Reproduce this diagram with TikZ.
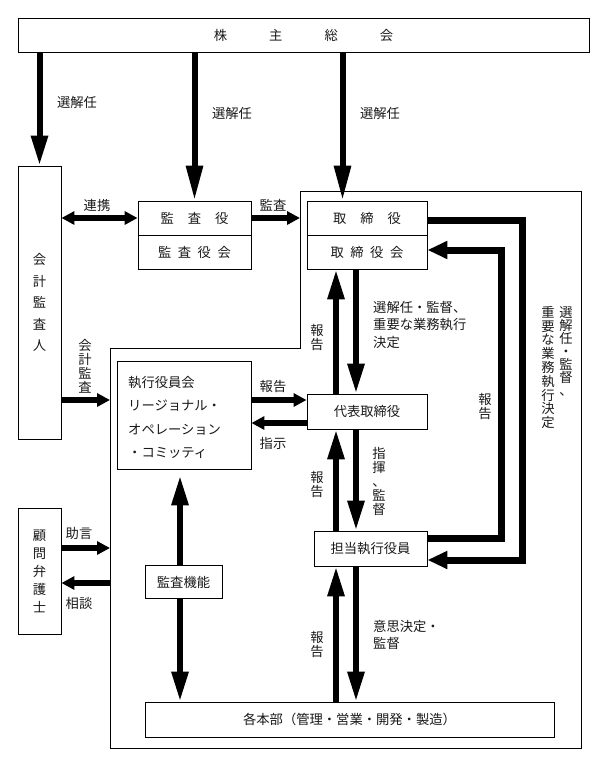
\documentclass[tikz,border=0pt]{standalone}
\usepackage{fontspec}
\setmainfont{Noto Sans CJK JP}
\usetikzlibrary{arrows.meta}
\definecolor{ink}{gray}{0.1}
\begin{document}
\begin{tikzpicture}[x=1pt,y=-1pt,
  box/.style={draw=black, line width=0.9pt, rectangle, inner sep=0pt, anchor=center, text=ink, font=\fontsize{13.3}{16}\selectfont},
  lbl/.style={inner sep=0pt, text=ink, font=\fontsize{13.3}{16}\selectfont},
  vlbl/.style={lbl, align=center, font=\fontsize{13.3}{14}\selectfont},
  varrow/.style={line width=6pt, -{Triangle[length=30pt,width=16pt]}},
  vlarrow/.style={line width=6pt, -{Triangle[length=35pt,width=16pt]}},
  harrow/.style={line width=6pt, -{Triangle[length=13pt,width=13pt]}},
  darrow/.style={line width=6pt, {Triangle[length=13pt,width=13pt]}-{Triangle[length=13pt,width=13pt]}},
  larrow/.style={line width=7pt, -{Triangle[length=20pt,width=17pt]}, line join=miter},
  frame/.style={draw=black, line width=0.9pt},
]
\useasboundingbox (0,0) rectangle (607,768);

% frame
\draw[frame] (300,191) -- (581.5,191) -- (581.5,748) -- (110,748) -- (110,348) -- (300,348) -- cycle;

% boxes
\node[box, minimum width=571pt, minimum height=34pt] (kabu) at (303.5,35) {株\hspace{42pt}主\hspace{42pt}総\hspace{42pt}会};
\node[box, minimum width=43pt, minimum height=273pt, align=center, font=\fontsize{13.3}{21.5}\selectfont] (kaikei) at (39.5,302.5) {会\\計\\監\\査\\人};
\node[box, minimum width=43pt, minimum height=126pt, align=center, font=\fontsize{13.3}{18}\selectfont] (komon) at (39.5,571) {顧\\問\\弁\\護\\士};
\node[box, minimum width=113pt, minimum height=34pt] (kansa) at (194.5,218) {監\hspace{14pt}査\hspace{14pt}役};
\node[box, minimum width=113pt, minimum height=34pt] (kansakai) at (194.5,252) {監\hspace{6.5pt}査\hspace{6.5pt}役\hspace{6.5pt}会};
\node[box, minimum width=120pt, minimum height=34pt] (tori) at (367,218) {取\hspace{14pt}締\hspace{14pt}役};
\node[box, minimum width=120pt, minimum height=34pt] (torikai) at (367,252) {取\hspace{6.5pt}締\hspace{6.5pt}役\hspace{6.5pt}会};
\node[box, minimum width=120pt, minimum height=35pt] (daihyo) at (367,411.5) {代表取締役};
\node[box, minimum width=113pt, minimum height=35pt] (tanto) at (370.5,548.5) {担当執行役員};
\node[box, minimum width=134pt, minimum height=108pt] (shikko) at (184,415) {};
\node[lbl, anchor=west, align=left, font=\fontsize{13.3}{23.3}\selectfont] (shikkotxt) at (128,417.5) {執行役員会\\リージョナル・\\オペレーション\\・コミッティ};
\node[box, minimum width=77pt, minimum height=33pt] (kansakino) at (183.5,582) {監査機能};
\node[box, minimum width=409pt, minimum height=35pt] (honbu) at (349.5,719.5) {各本部（管理・営業・開発・製造）};

% helper coordinates
\coordinate (a3) at (342.5,0);
\coordinate (u) at (336,0);
\coordinate (d) at (356,0);
\coordinate (xk) at (180,0);
\coordinate (fL) at (110,0);
\coordinate (fT) at (300,0);
\coordinate (xo) at (522,0);
\coordinate (xi) at (501,0);
\coordinate (ya) at (0,400);
\coordinate (yb) at (0,423);
\coordinate (yc) at (0,548);
\coordinate (yd) at (0,583);
\coordinate (ye) at (0,220);
\coordinate (yf) at (0,560);
\coordinate (yg) at (0,538);
\coordinate (yh) at (0,250);

% top arrows
\draw[varrow] (kabu.south -| kaikei.north) -- (kaikei.north);
\draw[vlarrow] (kabu.south -| kansa.north) -- (kansa.north);
\draw[vlarrow] (kabu.south -| a3) -- (tori.north -| a3);
\node[lbl] (l1) at (77,102) {選解任};
\node[lbl] (l2) at (232,113) {選解任};
\node[lbl] (l3) at (380,113) {選解任};

% 連携, 監査
\draw[darrow] (kaikei.east |- kansa.west) -- (kansa.west);
\node[lbl] (renkei) at (97,205) {連携};
\draw[harrow] (kansa.east) -- (kansa.east -| fT);
\node[lbl] (kansalbl) at (273,205) {監査};

% 取締役会 <-> 代表取締役
\draw[varrow] (daihyo.north -| u) -- (torikai.south -| u);
\draw[varrow] (torikai.south -| d) -- (daihyo.north -| d);
\node[vlbl] (h1) at (317,338) {報\\告};
\node[lbl, anchor=west, align=left, font=\fontsize{13.3}{17.5}\selectfont] (senkai) at (373,324.5) {選解任・監督、\\重要な業務執行\\決定};

% loops
\draw[larrow] (tori.east |- ye) -- (xo |- ye) -- (xo |- yf) -- (tanto.east |- yf);
\draw[larrow] (tanto.east |- yg) -- (xi |- yg) -- (xi |- yh) -- (torikai.east |- yh);
\node[vlbl, anchor=north, font=\fontsize{13.3}{13}\selectfont] (c1) at (566,306) {選\\解\\任\\・\\監\\督\\、};
\node[vlbl, anchor=north, font=\fontsize{13.3}{13.8}\selectfont] (c2) at (548,306) {重\\要\\な\\業\\務\\執\\行\\決\\定};
\node[vlbl] (h2) at (485,407) {報\\告};

% 会計監査
\draw[harrow] (kaikei.east |- ya) -- (fL |- ya);
\node[vlbl] (kk) at (85,366) {会\\計\\監\\査};

% 執行役員会 <-> 代表取締役
\draw[harrow] (shikko.east |- ya) -- (daihyo.west |- ya);
\draw[harrow] (daihyo.west |- yb) -- (shikko.east |- yb);
\node[lbl] (h3) at (273,387) {報告};
\node[lbl] (shiji) at (273,443) {指示};

% 代表取締役 <-> 担当執行役員
\draw[varrow] (tanto.north -| u) -- (daihyo.south -| u);
\draw[varrow] (daihyo.south -| d) -- (tanto.north -| d);
\node[vlbl] (h4) at (317,485) {報\\告};
\node[vlbl] (shiki) at (379,481) {指\\揮\\、\\監\\督};

% 顧問弁護士
\draw[harrow] (komon.east |- yc) -- (fL |- yc);
\draw[harrow] (fL |- yd) -- (komon.east |- yd);
\node[lbl] (jogen) at (79,533) {助言};
\node[lbl] (sodan) at (79,603) {相談};

% 監査機能
\draw[varrow, shorten >=6pt] (kansakino.north -| xk) -- (shikko.south -| xk);
\draw[varrow] (kansakino.south -| xk) -- (honbu.north -| xk);

% 各本部 <-> 担当執行役員
\draw[varrow] (honbu.north -| u) -- (tanto.south -| u);
\draw[varrow] (tanto.south -| d) -- (honbu.north -| d);
\node[vlbl] (h5) at (317,645) {報\\告};
\node[lbl, anchor=west, align=left, font=\fontsize{13.3}{17}\selectfont] (ishi) at (373,634.5) {意思決定・\\監督};
\end{tikzpicture}
\end{document}
